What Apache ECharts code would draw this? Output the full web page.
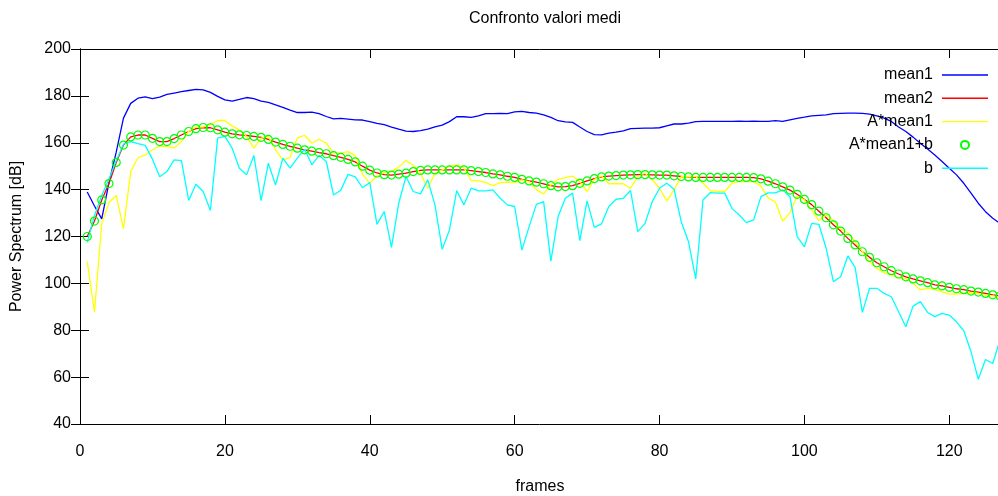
<!DOCTYPE html>
<html>
<head>
<meta charset="utf-8">
<script src="https://cdn.jsdelivr.net/npm/echarts@6/dist/echarts.min.js"></script>
<style>
html,body{margin:0;padding:0;background:#fff;}
#c{width:998px;height:496px;}
</style>
</head>
<body>
<div id="c"></div>
<script>
// ---- data (frames 1..127) ----
const FIRST_FRAME = 1;

const mean1 = [
139,133,127.5,143,156,170.5,176.8,179,179.6,178.8,
179.5,180.6,181.2,181.8,182.3,182.8,182.6,181.5,179.8,178.3,
177.8,178.5,179.3,178.8,177.8,177.2,176.2,175.1,173.9,172.9,
172.9,173.1,172.4,171.2,170.2,170.4,170.1,169.8,169.7,169,
168.3,167.7,166.7,165.8,165,164.8,165.2,165.8,166.8,167.5,
169,171.1,171.1,170.8,171.5,172.4,172.4,172.5,172.4,173.2,
173.4,172.9,172.6,171.9,170.8,169.4,168.9,168.7,166.7,164.8,
163.5,163.4,164.1,164.5,165.1,166,166.1,166.2,166.2,166.4,
167.2,168,168,168.4,169,169.1,169.1,169.1,169.1,169.1,
169.2,169.1,169.2,169.1,169.1,169.4,169.1,169.8,170.4,170.9,
171.5,171.7,171.9,172.4,172.5,172.6,172.6,172.5,172.2,171.5,
170.5,169.1,166.7,164.8,162.4,159.8,157.3,154.8,152,149.1,
146.3,142.7,138.5,134.2,130.6,127.8,125.6
];

const mean2 = [
120,126.6,135.6,142.6,151.6,159,162.5,163.3,163.3,161.9,
160.5,160.5,161.8,163.3,164.8,166,166.5,166.4,165.5,164.5,
163.8,163.4,163.1,162.7,162.3,161.4,160.3,159.3,158.5,157.7,
157,156.4,155.8,155.3,154.5,153.8,152.9,151.8,150,148.3,
147.1,146.4,146.2,146.6,147,147.7,148.2,148.4,148.4,148.4,
148.4,148.4,148.4,148.1,147.7,147.3,146.7,146.3,145.7,145.2,
144.4,143.7,143.2,142.5,141.7,141.2,141.3,141.7,142.7,143.7,
144.7,145.4,145.8,146,146.2,146.3,146.4,146.4,146.3,146.2,
146.2,145.9,145.6,145.4,145.2,145.2,145.2,145.2,145.2,145.2,
145.2,145.2,145.1,144.6,143.6,142.5,141.2,139.8,138,135.8,
133.6,130.8,128,125,122.3,119.2,116.4,113.5,111.1,108.8,
107.1,105.4,104,102.8,101.9,101.1,100.3,99.4,98.9,98.3,
97.7,97.3,96.7,96.3,95.7,95.1,94.6
];

const aMean1 = [
109.3,87.8,125.5,134.5,137.5,123.3,147.7,153.6,154.8,157,
158.5,158.5,157.7,160.5,164.8,166.7,166.7,167.7,169.5,169.5,
167.2,165.5,162.7,157.7,162,162.7,157,152.7,153.7,162,
163.2,159.8,161.5,159.8,155.7,155.6,156.2,154.5,146.6,142.7,
145.8,147.3,147.7,149.6,152.4,150.4,147,140.6,147,148.4,
149.9,150.6,149.3,143.9,143.7,143,141.7,143,143.2,143,
144.2,143.4,140,138.2,142,144.4,145.1,145.8,143.4,139.2,
144.4,145.8,142.5,142.5,142.5,140.5,145.6,147,144.2,140.6,
135.2,139.9,145.6,145.6,145.6,142.7,139.6,139.2,139.2,142.7,
143.4,143.4,143.4,141.5,136.5,134.7,126.5,130.2,137.3,135.6,
131.3,126.8,129.2,126.8,123.1,121.6,117.8,113.5,109.2,106.4,
104.5,103.5,102.4,102.1,100,97.2,97.9,97.4,96.4,95.4,
95.4,95.7,96,95.7,95,94.7,94
];

// A*mean1+b coincides with mean2 in the picture
const aMean1PlusB = mean2;

const b = [
117.5,129,137.5,144.5,152.3,159.4,160.5,159.6,158.9,153,
145.5,147.7,152.7,152.4,135.4,142.3,139.2,131.1,162,162.7,
157.7,149.1,146.3,154.6,135.3,151.3,142,153.4,149.2,153.4,
157.3,150.6,154.6,152,137.7,139.7,146.5,145.4,140.8,143,
125.2,130.6,115.4,134.2,145.6,139.2,138.2,144.2,133.5,114.5,
122.8,139.6,133.5,140.6,139.5,139.5,139.9,136.3,133.5,132.8,
114.2,124.2,133.7,134.9,109.5,128.5,136.3,138.5,118.2,135.2,
123.9,125.4,132.8,135.9,136.3,139.6,122.1,125.6,134.9,140.6,
142.7,140.2,126.3,117.8,101.9,135.6,138.7,138.5,138.5,132,
129.2,125.9,127.1,137,138.6,138.6,139.9,137,119.9,115.6,
125.6,125.2,115,100.7,102.8,111.7,106.8,87.6,97.9,97.9,
95.7,94.3,87.9,81.5,90.3,92.2,87.6,85.8,87.2,86.5,
83.6,79.8,70.8,59.1,67.5,65.8,75.8
];

const xTickLabels = [0, 20, 40, 60, 80, 100, 120];
const yTickLabels = [40, 60, 80, 100, 120, 140, 160, 180, 200];

// ---- chart ----
const FONT = '"Liberation Sans", Arial, Helvetica, sans-serif';
const pairs = arr => arr.map((v, i) => [FIRST_FRAME + i, v]);
const LINE_ICON = 'path://M0,0L46,0L46,1.4L0,1.4Z';

const chart = echarts.init(document.getElementById('c'), null, {renderer: 'canvas'});

const axisLineStyle = {show: true, lineStyle: {color: '#000', width: 1}};
const tickStyle = {show: true, inside: true, length: 9, lineStyle: {color: '#000', width: 1}};
const labelStyle = {fontFamily: FONT, fontSize: 16, color: '#000'};

function lineSeries(name, arr, color) {
  return {
    name: name, type: 'line', data: pairs(arr),
    symbol: 'none', silent: true,
    lineStyle: {color: color, width: 1.3},
    itemStyle: {color: color},
    emphasis: {disabled: true}
  };
}

const option = {
  animation: false,
  backgroundColor: '#fff',
  title: {
    text: 'Confronto valori medi',
    left: 464, top: 6,
    textStyle: {fontFamily: FONT, fontSize: 16, fontWeight: 'normal', color: '#000'}
  },
  grid: {left: 80, top: 49, width: 920, height: 375, containLabel: false, outerBoundsMode: 'none'},
  legend: {
    orient: 'vertical', right: 5, top: 62, align: 'right',
    itemWidth: 46, itemHeight: 8, itemGap: 7.3,
    selectedMode: false,
    textStyle: {fontFamily: FONT, fontSize: 16, color: '#000', lineHeight: 16, padding: [0, 4, 0, 0]},
    data: [
      {name: 'mean1', icon: LINE_ICON},
      {name: 'mean2', icon: LINE_ICON},
      {name: 'A*mean1', icon: LINE_ICON},
      {name: 'A*mean1+b', icon: 'circle'},
      {name: 'b', icon: LINE_ICON}
    ]
  },
  xAxis: [
    {
      type: 'value', min: xTickLabels[0], max: 127, interval: 20, position: 'bottom',
      name: 'frames', nameLocation: 'middle', nameGap: 55,
      nameTextStyle: labelStyle,
      axisLine: axisLineStyle, axisTick: tickStyle,
      axisLabel: Object.assign({margin: 20, showMaxLabel: false,
        formatter: v => (xTickLabels.indexOf(v) >= 0 ? String(v) : '')}, labelStyle),
      splitLine: {show: false}
    },
    {
      type: 'value', min: xTickLabels[0], max: 127, interval: 20, position: 'top',
      axisLine: axisLineStyle, axisTick: tickStyle,
      axisLabel: {show: false}, splitLine: {show: false}
    }
  ],
  yAxis: [
    {
      type: 'value', min: yTickLabels[0], max: yTickLabels[yTickLabels.length - 1], interval: 20,
      position: 'left',
      name: 'Power Spectrum [dB]', nameLocation: 'middle', nameGap: 55,
      nameTextStyle: labelStyle,
      axisLine: axisLineStyle, axisTick: tickStyle,
      axisLabel: Object.assign({margin: 9}, labelStyle),
      splitLine: {show: false}
    },
    {
      type: 'value', min: yTickLabels[0], max: yTickLabels[yTickLabels.length - 1], interval: 20,
      position: 'right',
      axisLine: axisLineStyle, axisTick: tickStyle,
      axisLabel: {show: false}, splitLine: {show: false}
    }
  ],
  series: [
    lineSeries('mean1', mean1, '#0000ff'),
    lineSeries('mean2', mean2, '#ff0000'),
    lineSeries('A*mean1', aMean1, '#ffff00'),
    {
      name: 'A*mean1+b', type: 'line', data: pairs(aMean1PlusB),
      symbol: 'circle', symbolSize: 8, showSymbol: true, showAllSymbol: true, silent: true,
      lineStyle: {width: 0, opacity: 0},
      itemStyle: {color: 'rgba(0,0,0,0)', borderColor: '#00ff00', borderWidth: 1.2},
      emphasis: {disabled: true}
    },
    lineSeries('b', b, '#00ffff')
  ]
};

chart.setOption(option);
</script>
</body>
</html>
